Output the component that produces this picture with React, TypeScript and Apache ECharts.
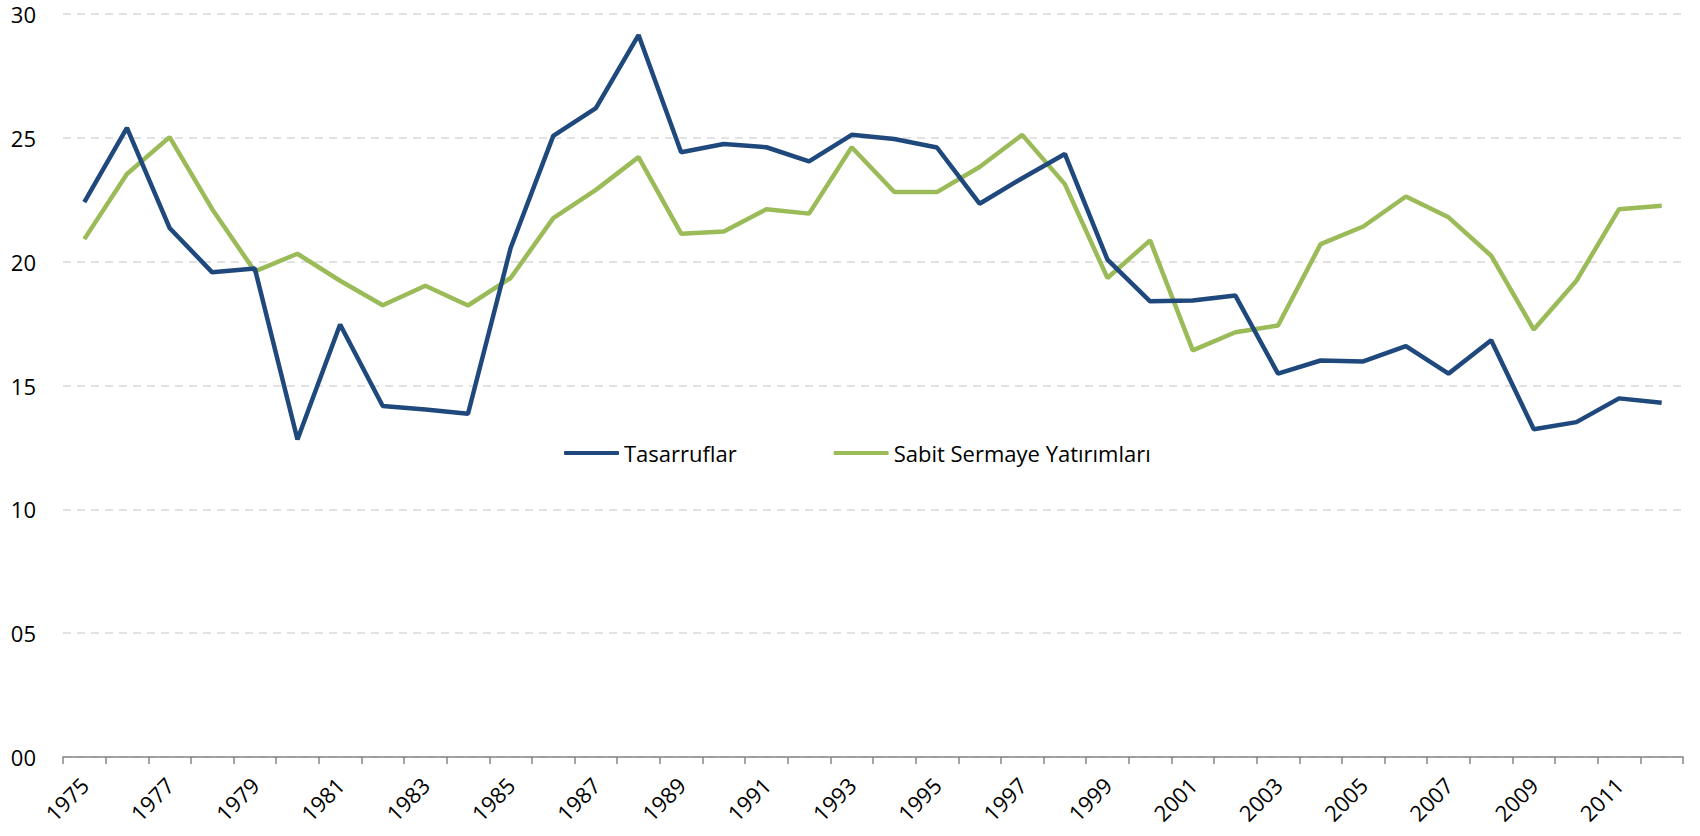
import React, { useEffect, useRef } from "react";
import * as echarts from "echarts";

const years: string[] = [
  "1975","1976","1977","1978","1979","1980","1981","1982","1983","1984",
  "1985","1986","1987","1988","1989","1990","1991","1992","1993","1994",
  "1995","1996","1997","1998","1999","2000","2001","2002","2003","2004",
  "2005","2006","2007","2008","2009","2010","2011","2012",
];

const tasarruflar: number[] = [
  22.4, 25.4, 21.36, 19.57, 19.72, 12.82, 17.46, 14.17, 14.03, 13.86,
  20.55, 25.08, 26.2, 29.15, 24.42, 24.75, 24.62, 24.05, 25.12, 24.95,
  24.61, 22.34, 23.37, 24.35, 20.08, 18.4, 18.43, 18.63, 15.48, 16.01,
  15.97, 16.59, 15.48, 16.83, 13.23, 13.52, 14.48, 14.3,
];

const sabitSermaye: number[] = [
  20.91, 23.54, 25.03, 22.12, 19.61, 20.32, 19.23, 18.24, 19.03, 18.23,
  19.34, 21.76, 22.9, 24.22, 21.13, 21.22, 22.12, 21.94, 24.62, 22.81,
  22.81, 23.82, 25.12, 23.13, 19.34, 20.86, 16.42, 17.15, 17.42, 20.71,
  21.42, 22.63, 21.79, 20.24, 17.26, 19.23, 22.12, 22.26,
];

const seriesNames: string[] = ["Tasarruflar", "Sabit Sermaye Yatırımları"];

const FONT = "'Open Sans', Lato, sans-serif";

export default function App() {
  const ref = useRef<HTMLDivElement>(null);

  useEffect(() => {
    if (!ref.current) return;
    const chart = echarts.init(ref.current, null, { renderer: "svg" });
    chart.setOption({
      animation: false,
      backgroundColor: "#ffffff",
      grid: { left: 63, right: 17, top: 14, bottom: 79, containLabel: false },
      legend: {
        left: 559,
        top: 437,
        icon: "roundRect",
        itemWidth: 55,
        itemHeight: 4,
        itemGap: 97,
        textStyle: { fontFamily: FONT, fontSize: 22, color: "#000000", padding: [0, 0, 0, 0] },
        data: seriesNames,
      },
      xAxis: {
        type: "category",
        data: years,
        boundaryGap: true,
        axisLine: { show: true, lineStyle: { color: "#868686", width: 1.5 } },
        axisTick: {
          show: true,
          interval: 0,
          length: 7,
          lineStyle: { color: "#868686", width: 1.5 },
        },
        axisLabel: {
          interval: 1,
          rotate: 45,
          margin: 24,
          fontFamily: FONT,
          fontSize: 22,
          color: "#000000",
        },
        splitLine: { show: false },
      },
      yAxis: {
        type: "value",
        min: 0,
        max: 30,
        interval: 5,
        axisLine: { show: false },
        axisTick: { show: false },
        axisLabel: {
          margin: 27,
          fontFamily: FONT,
          fontSize: 22,
          lineHeight: 20,
          color: "#000000",
          formatter: (v: number) => String(v).padStart(2, "0"),
        },
        splitLine: {
          show: true,
          lineStyle: { color: "#D9D9D9", type: [8, 6], width: 1.5 },
        },
      },
      series: [
        {
          name: seriesNames[0],
          type: "line",
          data: tasarruflar,
          symbol: "none",
          lineStyle: { color: "#1F497D", width: 4.5 },
          itemStyle: { color: "#1F497D" },
          z: 3,
        },
        {
          name: seriesNames[1],
          type: "line",
          data: sabitSermaye,
          symbol: "none",
          lineStyle: { color: "#9BBB59", width: 4.5 },
          itemStyle: { color: "#9BBB59" },
          z: 2,
        },
      ],
    });
    return () => chart.dispose();
  }, []);

  return (
    <div
      ref={ref}
      style={{ position: "absolute", left: 0, top: 0, width: 1700, height: 836 }}
    />
  );
}
